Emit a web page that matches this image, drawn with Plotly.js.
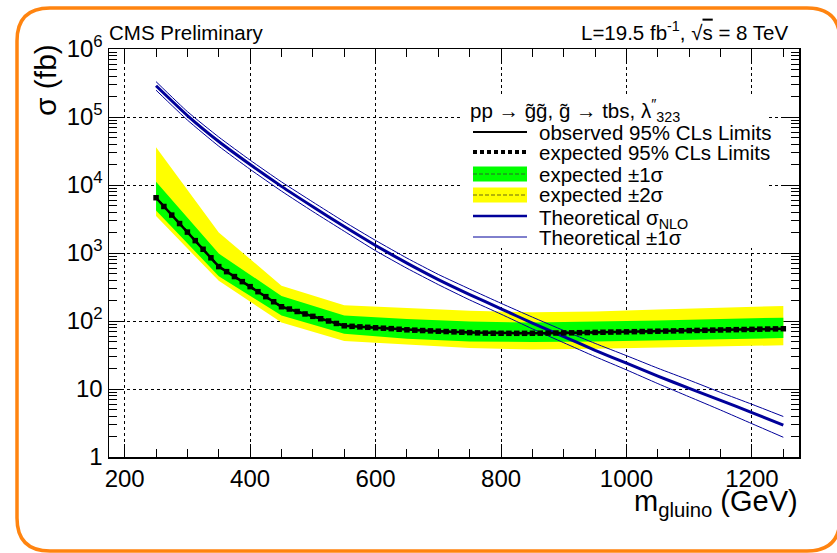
<!DOCTYPE html>
<html>
<head>
<meta charset="utf-8">
<script src="https://cdn.plot.ly/plotly-3.0.1.min.js"></script>
<style>
  html, body { margin: 0; padding: 0; background: #ffffff; }
  #chart { width: 837px; height: 553px; }
</style>
</head>
<body>
<div id="chart"></div>
<script>
// ---------------- data ----------------
// gluino masses for the expected limit curve (GeV)
const massFine = [250, 262.5, 275, 287.5, 300, 312.5, 325, 337.5, 350, 362.5, 375, 387.5, 400, 412.5, 425, 437.5,
  450, 462.5, 475, 487.5, 500, 512.5, 525, 537.5, 550, 562.5, 575, 587.5, 600, 612.5, 625, 637.5,
  650, 662.5, 675, 687.5, 700, 712.5, 725, 737.5, 750, 762.5, 775, 787.5, 800, 812.5, 825, 837.5,
  850, 862.5, 875, 887.5, 900, 912.5, 925, 937.5, 950, 962.5, 975, 987.5, 1000, 1012.5, 1025, 1037.5,
  1050, 1062.5, 1075, 1087.5, 1100, 1112.5, 1125, 1137.5, 1150, 1162.5, 1175, 1187.5, 1200, 1212.5, 1225, 1237.5, 1250];
// expected 95% CLs limit (fb)
const expectedLimit = [6500, 4830, 3610, 2710, 2030, 1520, 1135, 850, 631, 532, 450, 379, 320, 270, 228, 192,
  162, 150, 138, 127, 117, 108, 100, 92, 85, 83.5, 82, 80.8, 79.5, 78.3, 77.2, 75.6,
  74.2, 73.3, 72.4, 71.6, 70.8, 70.0, 69.2, 68.4, 67.6, 66.9, 66.4, 66.1, 66.0, 65.9, 65.9, 65.9,
  66.0, 66.2, 66.4, 66.6, 66.8, 67.0, 67.3, 67.6, 68.0, 68.3, 68.7, 69.0, 69.3, 69.7, 70.0, 70.4,
  70.8, 71.1, 71.5, 71.9, 72.3, 72.7, 73.0, 73.4, 73.8, 74.2, 74.6, 75.0, 75.4, 75.8, 76.2, 76.6, 77.0];
// observed 95% CLs limit (fb)
const massObs = [250, 300, 350, 400, 450, 500, 550, 600, 650, 700, 750, 800, 850, 900, 950, 1000, 1050, 1100, 1150, 1200, 1250];
const observedLimit = [6500, 2030, 631, 320, 162, 117, 85, 79.5, 74.2, 70.8, 67.6, 66.0, 66.0, 66.8, 68.0, 69.3, 70.8, 72.3, 73.8, 75.4, 77.0];

// expected bands (fb)
const massBand = [250, 350, 450, 550, 650, 750, 850, 950, 1050, 1150, 1250];
const oneSigmaUp   = [11200, 980, 234, 120, 107, 98, 95, 98, 102, 107, 112];
const oneSigmaDown = [4200, 457, 120, 65, 55, 50, 49, 50, 51, 54, 56];
const twoSigmaUp   = [36000, 2000, 331, 170, 155, 141, 135, 138, 148, 158, 166];
const twoSigmaDown = [3500, 390, 95, 51, 45, 40, 38, 39, 41, 42, 44];

// theoretical NLO cross section (fb)
const massTheory = [250, 300, 350, 400, 450, 500, 550, 600, 650, 700, 750, 800, 850, 900, 950, 1000, 1050, 1100, 1150, 1200, 1250];
const theoryNLO  = [288000, 105000, 43600, 20000, 9550, 4790, 2450, 1290, 710, 407, 245, 151, 93, 59, 37, 24.0, 15.5, 10.2, 6.8, 4.5, 2.95];
const theoryUp   = [331000, 120000, 50700, 23200, 11100, 5620, 2880, 1530, 841, 484, 295, 182, 114, 72.4, 46.8, 30.9, 20.2, 13.5, 8.9, 5.96, 3.94];
const theoryDown = [248000, 90200, 37200, 17000, 8130, 4070, 2090, 1080, 596, 343, 204, 126, 76.7, 47.9, 29.9, 19.1, 12.0, 7.67, 4.9, 3.09, 1.95];

// axis ticks
const yTickVals = [1, 10, 100, 1000, 10000, 100000, 1000000];
const yTickText = ['1', '10', '10<sup>2</sup>', '10<sup>3</sup>', '10<sup>4</sup>', '10<sup>5</sup>', '10<sup>6</sup>'];

// legend labels
const legendHeader = 'pp → g̃g̃, g̃ → tbs, λ<sup>″</sup><sub>323</sub>';
const legendLabels = ['observed 95% CLs Limits', 'expected 95% CLs Limits', 'expected ±1σ',
  'expected ±2σ', 'Theoretical σ<sub>NLO</sub>', 'Theoretical ±1σ'];

// ---------------- styling / geometry ----------------
const FONT = '"Liberation Sans", Arial, Helvetica, sans-serif';
const L = 109, R = 799, T = 49, B = 457;
const px = x => (x - L) / (R - L);
const py = y => (B - y) / (B - T);
const NAVY = '#00009a';

function band(up, down, color) {
  return {
    x: massBand.concat(massBand.slice().reverse()),
    y: up.concat(down.slice().reverse()),
    type: 'scatter', mode: 'lines', fill: 'toself', fillcolor: color,
    line: { width: 0, color: color }, hoverinfo: 'skip', showlegend: false
  };
}

const traces = [
  band(twoSigmaUp, twoSigmaDown, '#ffff00'),
  band(oneSigmaUp, oneSigmaDown, '#00ff00'),
  { x: massTheory, y: theoryUp, type: 'scatter', mode: 'lines', line: { color: NAVY, width: 1, shape: 'spline', smoothing: 0.5 }, showlegend: false },
  { x: massTheory, y: theoryDown, type: 'scatter', mode: 'lines', line: { color: NAVY, width: 1, shape: 'spline', smoothing: 0.5 }, showlegend: false },
  { x: massTheory, y: theoryNLO, type: 'scatter', mode: 'lines', line: { color: NAVY, width: 3, shape: 'spline', smoothing: 0.5 }, showlegend: false },
  { x: massObs, y: observedLimit, type: 'scatter', mode: 'lines', line: { color: '#000', width: 2.5 }, showlegend: false },
  { x: massFine, y: expectedLimit, type: 'scatter', mode: 'lines+markers',
    line: { color: '#000', width: 2, dash: 'dot' },
    marker: { symbol: 'square', size: 5.5, color: '#000' }, showlegend: false }
];

// ---------------- border, legend (shapes + annotations) ----------------
const bx0 = 17, bx1 = 840, by0 = 8, by1 = 551, br = 33;
const borderPath = `M ${px(bx0 + br)},${py(by0)} L ${px(bx1 - br)},${py(by0)} Q ${px(bx1)},${py(by0)} ${px(bx1)},${py(by0 + br)} ` +
  `L ${px(bx1)},${py(by1 - br)} Q ${px(bx1)},${py(by1)} ${px(bx1 - br)},${py(by1)} L ${px(bx0 + br)},${py(by1)} ` +
  `Q ${px(bx0)},${py(by1)} ${px(bx0)},${py(by1 - br)} L ${px(bx0)},${py(by0 + br)} Q ${px(bx0)},${py(by0)} ${px(bx0 + br)},${py(by0)} Z`;

const rowY = [132, 152, 174, 195, 216, 237];
const symX0 = 473, symX1 = 527, textX = 537;

const shapes = [
  { type: 'path', path: borderPath, xref: 'paper', yref: 'paper', line: { color: '#ff8410', width: 3.5 }, layer: 'above' },
  // legend background
  { type: 'rect', xref: 'paper', yref: 'paper', x0: px(460), x1: px(767), y0: py(248), y1: py(96),
    fillcolor: '#ffffff', line: { width: 0 }, layer: 'above' },
  // observed
  { type: 'line', xref: 'paper', yref: 'paper', x0: px(symX0), x1: px(symX1), y0: py(rowY[0]), y1: py(rowY[0]),
    line: { color: '#000', width: 2 }, layer: 'above' },
  // expected
  { type: 'line', xref: 'paper', yref: 'paper', x0: px(symX0), x1: px(symX1), y0: py(rowY[1]), y1: py(rowY[1]),
    line: { color: '#000', width: 4, dash: '4px,3px' }, layer: 'above' },
  // +-1 sigma
  { type: 'rect', xref: 'paper', yref: 'paper', x0: px(symX0), x1: px(symX1), y0: py(rowY[2] + 7.5), y1: py(rowY[2] - 7.5),
    fillcolor: '#00ff00', line: { width: 0 }, layer: 'above' },
  { type: 'line', xref: 'paper', yref: 'paper', x0: px(symX0), x1: px(symX1), y0: py(rowY[2]), y1: py(rowY[2]),
    line: { color: '#2b6b2b', width: 1.2, dash: '4px,2px' }, layer: 'above' },
  // +-2 sigma
  { type: 'rect', xref: 'paper', yref: 'paper', x0: px(symX0), x1: px(symX1), y0: py(rowY[3] + 7.5), y1: py(rowY[3] - 7.5),
    fillcolor: '#ffff00', line: { width: 0 }, layer: 'above' },
  { type: 'line', xref: 'paper', yref: 'paper', x0: px(symX0), x1: px(symX1), y0: py(rowY[3]), y1: py(rowY[3]),
    line: { color: '#6b6b10', width: 1.2, dash: '4px,2px' }, layer: 'above' },
  // theory
  { type: 'line', xref: 'paper', yref: 'paper', x0: px(symX0), x1: px(symX1), y0: py(rowY[4]), y1: py(rowY[4]),
    line: { color: NAVY, width: 2.5 }, layer: 'above' },
  { type: 'line', xref: 'paper', yref: 'paper', x0: px(symX0), x1: px(symX1), y0: py(rowY[5]), y1: py(rowY[5]),
    line: { color: NAVY, width: 1 }, layer: 'above' }
];

const txt = (text, x, y, opts) => Object.assign({
  text: text, xref: 'paper', yref: 'paper', x: px(x), y: py(y), showarrow: false,
  xanchor: 'left', yanchor: 'middle', font: { family: FONT, size: 20.5, color: '#000' }
}, opts || {});

const annotations = [
  txt('CMS Preliminary', 107, 33),
  txt('L=19.5 fb<sup>-1</sup>, √<span style="text-decoration:overline">s</span> = 8 TeV', 790, 31, { xanchor: 'right' }),
  txt('σ (fb)', 46, 80, { xanchor: 'center', textangle: -90, font: { family: FONT, size: 30, color: '#000' } }),
  txt('m<sub>gluino</sub> (GeV)', 800, 503, { xanchor: 'right', font: { family: FONT, size: 29, color: '#000' } }),
  txt(legendHeader, 468, 110)
];
legendLabels.forEach((lab, i) => annotations.push(txt(lab, textX, rowY[i] + (lab.indexOf('<sub>') >= 0 ? 3 : 0))));

const axisCommon = {
  showline: true, linecolor: '#000', linewidth: 1.5, mirror: 'ticks',
  ticks: 'inside', tickcolor: '#000', tickwidth: 1,
  showgrid: true, gridcolor: '#000', gridwidth: 1, griddash: 'dot',
  zeroline: false, tickfont: { family: FONT, size: 24, color: '#000' }
};

const layout = {
  width: 837, height: 553,
  margin: { l: L, r: 837 - R, t: T, b: 553 - B, pad: 0 },
  paper_bgcolor: '#ffffff', plot_bgcolor: '#ffffff',
  showlegend: false,
  xaxis: Object.assign({}, axisCommon, {
    range: [175, 1275], tick0: 200, dtick: 200, ticklen: 13,
    minor: { dtick: 50, tick0: 200, ticks: 'inside', ticklen: 8, tickcolor: '#000', showgrid: false }
  }),
  yaxis: Object.assign({}, axisCommon, {
    type: 'log', range: [0, 6], tickmode: 'array', tickvals: yTickVals, ticktext: yTickText, ticklen: 15,
    minor: { dtick: 'D1', ticks: 'inside', ticklen: 8, tickcolor: '#000', showgrid: false }
  }),
  shapes: shapes,
  annotations: annotations
};

Plotly.newPlot('chart', traces, layout, { displayModeBar: false, staticPlot: true });
</script>
</body>
</html>
